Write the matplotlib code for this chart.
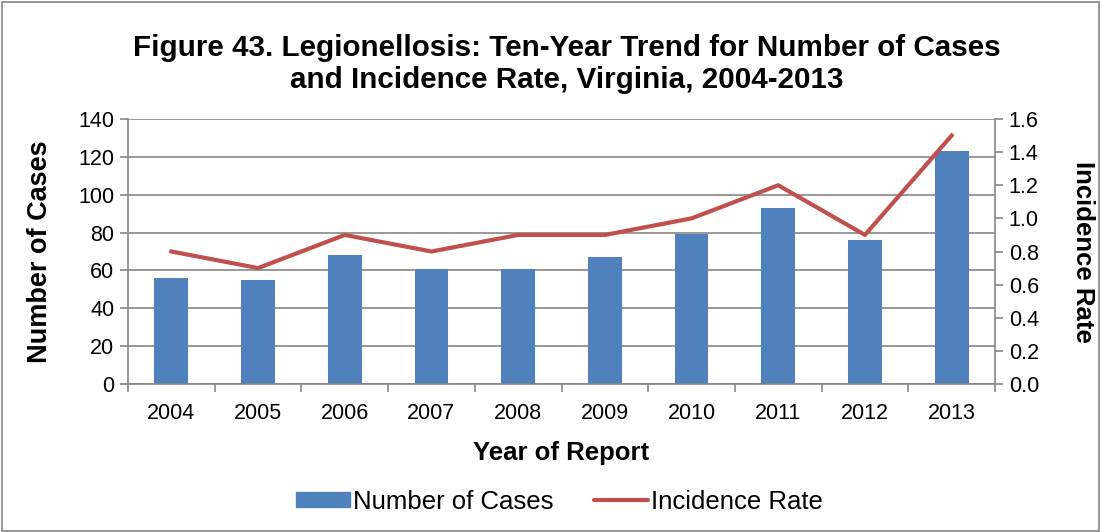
import matplotlib.pyplot as plt
from matplotlib.patches import Rectangle
from matplotlib.lines import Line2D

years = ['2004', '2005', '2006', '2007', '2008', '2009', '2010', '2011', '2012', '2013']
cases = [56, 55, 68, 61, 61, 67, 79, 93, 76, 123]
rate = [0.8, 0.7, 0.9, 0.8, 0.9, 0.9, 1.0, 1.2, 0.9, 1.5]

plt.rcParams['font.family'] = ['Liberation Sans', 'DejaVu Sans']

grid_c = '#868686'
fig = plt.figure(figsize=(11.01, 5.32), dpi=100)
fig.patches.append(Rectangle((0.002, 0.002), 0.996, 0.994, transform=fig.transFigure,
                             fill=False, edgecolor='#868686', lw=1.2))

ax = fig.add_axes([0.1163, 0.2782, 0.7874, 0.4981])
x = list(range(len(years)))
ax.bar(x, cases, width=0.39, color='#4F81BD', zorder=2)
ax.set_xlim(-0.5, len(years) - 0.5)
ax.set_ylim(0, 140)
ax.set_yticks(range(0, 141, 20))
ax.yaxis.grid(True, color=grid_c, lw=1.2, zorder=0)
ax.set_axisbelow(True)
ax.set_xticks(x)
ax.set_xticklabels(years, fontsize=15.5)
ax.set_xticks([i - 0.5 for i in range(len(years) + 1)], minor=True)
ax.tick_params(axis='x', which='major', length=0, pad=14)
ax.tick_params(axis='x', which='minor', length=6, color=grid_c, width=1.2)
ax.tick_params(axis='y', labelsize=15.5, length=6, color=grid_c, width=1.2, pad=4)
for s in ['top', 'right']:
    ax.spines[s].set_visible(False)
for s in ['left', 'bottom']:
    ax.spines[s].set_color(grid_c)
    ax.spines[s].set_linewidth(1.2)
ax.set_ylabel('Number of Cases', fontsize=19.5, fontweight='bold', labelpad=18)
ax.set_xlabel('Year of Report', fontsize=18.5, fontweight='bold', labelpad=12)

ax2 = ax.twinx()
ax2.plot(x, rate, color='#C0504D', lw=3.0, zorder=3)
ax2.set_ylim(0, 1.6)
ax2.set_yticks([i / 5 for i in range(9)])
ax2.set_yticklabels(['%.1f' % (i / 5) for i in range(9)])
ax2.tick_params(axis='y', labelsize=15.5, length=6, color=grid_c, width=1.2, pad=4)
for s in ['top', 'left', 'bottom']:
    ax2.spines[s].set_visible(False)
ax2.spines['right'].set_color(grid_c)
ax2.spines['right'].set_linewidth(1.2)
ax2.set_ylabel('Incidence Rate', fontsize=18.5, fontweight='bold', rotation=270, labelpad=40)

fig.text(0.515, 0.88, 'Figure 43. Legionellosis: Ten-Year Trend for Number of Cases\nand Incidence Rate, Virginia, 2004-2013',
         ha='center', va='center', fontsize=21.3, fontweight='bold', linespacing=1.2)

handles = [Rectangle((0, 0), 1, 1, color='#4F81BD'),
           Line2D([], [], color='#C0504D', lw=3.0, solid_capstyle='round')]
fig.legend(handles, ['Number of Cases', 'Incidence Rate'], loc='center',
           bbox_to_anchor=(0.508, 0.057), ncol=2, frameon=False, fontsize=18.5,
           handlelength=2.1, handletextpad=0.1, columnspacing=1.6, handleheight=0.55)

fig.savefig('out.png', dpi=100)
